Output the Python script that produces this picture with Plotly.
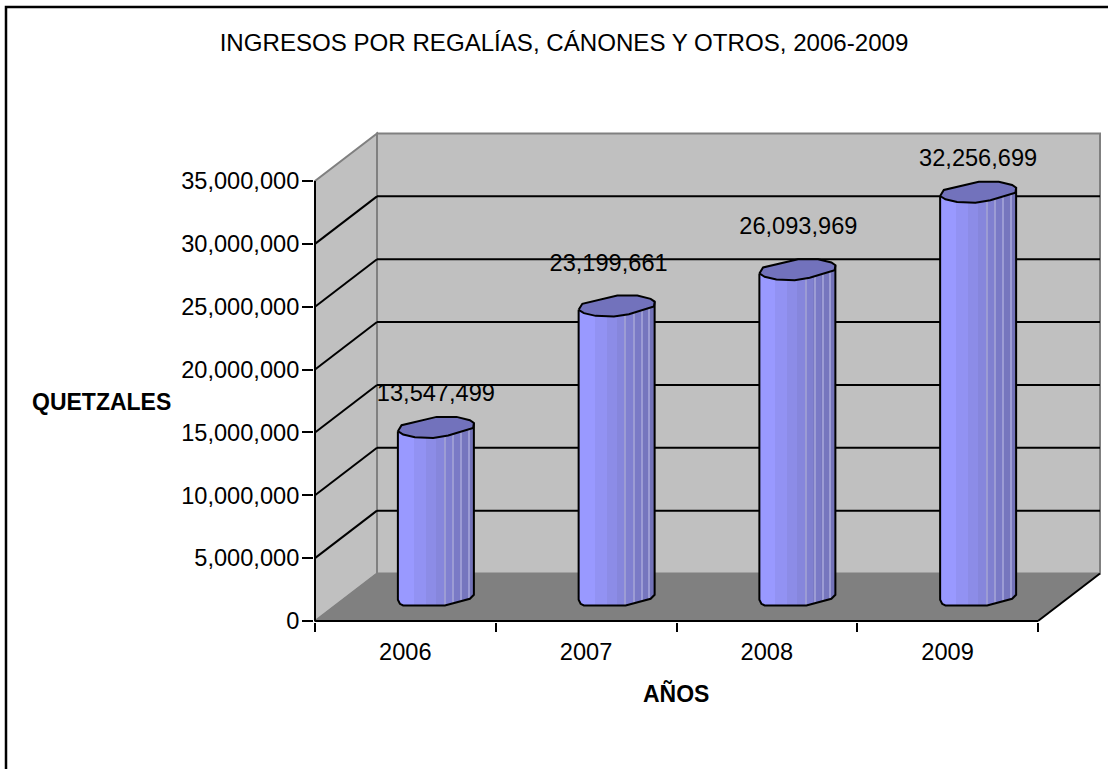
import numpy as np
import plotly.graph_objects as go

# ---- data ----
years = [2006, 2007, 2008, 2009]
values = [13547499, 23199661, 26093969, 32256699]
y_ticks = [0, 5000000, 10000000, 15000000, 20000000, 25000000, 30000000, 35000000]
title_text = "INGRESOS POR REGALÍAS, CÁNONES Y OTROS, 2006-2009"
y_title = "QUETZALES"
x_title = "AÑOS"

# ---- page geometry (pixels of the 1108x769 page) ----
W, H = 1108, 769
X0_PX, Y0_PX = 315.0, 621.0       # where the front corner sits
PX_PER_YEAR = 180.75
PX_PER_UNIT = 440.0 / 35000000
DEPTH_X, DEPTH_Y = 62.0, 47.5     # oblique depth of the box
COL_SHIFT_X, COL_SHIFT_Y = 30.5, 24.5  # columns stand mid-depth

def dx(px):
    return px / PX_PER_YEAR

def dy(px):
    return px / PX_PER_UNIT

X_START = years[0] - 0.5
X_END = years[-1] + 0.5

dom_l, dom_r, dom_b, dom_t = 314.0, 1104.0, 622.0, 128.0
x_range = [X_START + dx(dom_l - X0_PX), X_START + dx(dom_r - X0_PX)]
y_range = [dy(Y0_PX - dom_b), dy(Y0_PX - dom_t)]

# ---- column look (offsets in px from the column axis) ----
R = 38.0
band_edges = [-38, -23, -11, -1, 8.3, 16.7, 24.7, 32.3, 38]
band_cols = ["#9999FF", "#9292F3", "#8C8CE7", "#8686DC", "#8080D0", "#7A7AC6", "#7676BE", "#7272B8"]
seam_t = [8.3, 16.7, 24.7, 32.3]
seam_col = "#9C9CD4"
cap_col = "#7272BC"
cap_outline = [(-38, 5), (-34.3, -1), (0.7, -9.3), (20.7, -9.3), (34, -6), (38, -3.3), (37.3, 1.7),
               (12.3, 9.3), (-2.7, 11.7), (-21, 11), (-32.7, 8.3), (-38, 5)]
cap_low_t = [-38, -32.7, -21, -2.7, 12.3, 37.3, 38]
cap_low_d = [5, 8.3, 11, 11.7, 9.3, 1.7, -3.3]
foot_t = [-38, -36, -32.7, 9, 34, 38]
foot_d = [3.3, 7.3, 9, 9, 2.3, -1.7]

fig = go.Figure()

# column bodies: thin vertical strips, each strip a bar
STRIP = 2.0
strip_left = np.arange(-R, R, STRIP)
strip_mid = strip_left + STRIP / 2
foot_off = np.interp(strip_mid, foot_t, foot_d)
top_off = np.interp(strip_mid, cap_low_t, cap_low_d)
strip_col = [band_cols[min(int(np.searchsorted(band_edges, m)) - 1, len(band_cols) - 1)] for m in strip_mid]

for yr, val in zip(years, values):
    n = len(strip_mid)
    fig.add_trace(go.Bar(
        x=[yr] * n,
        y=[val - dy(t) + dy(f) for t, f in zip(top_off, foot_off)],
        base=[dy(COL_SHIFT_Y) - dy(f) for f in foot_off],
        offset=[dx(COL_SHIFT_X + s) for s in strip_left],
        width=[dx(STRIP + 0.4)] * n,
        marker=dict(color=strip_col, line=dict(width=0)),
        showlegend=False, hoverinfo="skip", cliponaxis=False,
    ))
    # faint seams between the shaded facets on the dark side
    m = len(seam_t)
    seam_foot = np.interp(seam_t, foot_t, foot_d)
    seam_top = np.interp(seam_t, cap_low_t, cap_low_d)
    fig.add_trace(go.Bar(
        x=[yr] * m,
        y=[val - dy(t) + dy(f) for t, f in zip(seam_top, seam_foot)],
        base=[dy(COL_SHIFT_Y) - dy(f) for f in seam_foot],
        offset=[dx(COL_SHIFT_X + s) for s in seam_t],
        width=[dx(1.0)] * m,
        marker=dict(color=seam_col, line=dict(width=0)),
        showlegend=False, hoverinfo="skip", cliponaxis=False,
    ))

# column outlines and caps
for yr, val in zip(years, values):
    cx = yr + dx(COL_SHIFT_X)
    floor_y = dy(COL_SHIFT_Y)
    top_y = floor_y + val
    sx = [cx + dx(-R)] + [cx + dx(t) for t in foot_t] + [cx + dx(R)]
    sy = [top_y - dy(5)] + [floor_y - dy(d) for d in foot_d] + [top_y - dy(-3.3)]
    fig.add_trace(go.Scatter(x=sx, y=sy, mode="lines", line=dict(color="black", width=2),
                             showlegend=False, hoverinfo="skip", cliponaxis=False))
    fig.add_trace(go.Scatter(x=[cx + dx(p[0]) for p in cap_outline],
                             y=[top_y - dy(p[1]) for p in cap_outline],
                             mode="lines", fill="toself", fillcolor=cap_col,
                             line=dict(color="black", width=2),
                             showlegend=False, hoverinfo="skip", cliponaxis=False))

# data labels
label_lift = [31, 40, 40, 31]
label_shift = [0, -8, 1, 0]
fig.add_trace(go.Scatter(
    x=[yr + dx(COL_SHIFT_X + s) for yr, s in zip(years, label_shift)],
    y=[val + dy(COL_SHIFT_Y + l) for val, l in zip(values, label_lift)],
    mode="text", text=[f"{v:,}" for v in values], textposition="middle center",
    textfont=dict(family="Liberation Sans", size=23.6, color="black"),
    showlegend=False, hoverinfo="skip", cliponaxis=False,
))

# ---- the oblique box, drawn through the axes ----
GREY = "#808080"
WALL = "#C0C0C0"
top_val = y_ticks[-1]
ox, oy = dx(DEPTH_X), dy(DEPTH_Y)

def poly(points, fill, line_col, width):
    path = "M " + " L ".join(f"{a},{b}" for a, b in points) + " Z"
    return dict(type="path", path=path, xref="x", yref="y", layer="below",
                fillcolor=fill, line=dict(color=line_col, width=width))

def seg(x1, y1, x2, y2, col, width, layer="below"):
    return dict(type="line", x0=x1, y0=y1, x1=x2, y1=y2, xref="x", yref="y", layer=layer,
                line=dict(color=col, width=width))

shapes = [
    poly([(X_START, 0), (X_START + ox, oy), (X_START + ox, top_val + oy), (X_START, top_val)], WALL, GREY, 2),
    poly([(X_START + ox, oy), (X_END + ox, oy), (X_END + ox, top_val + oy), (X_START + ox, top_val + oy)], WALL, GREY, 2),
    poly([(X_START, 0), (X_END, 0), (X_END + ox, oy), (X_START + ox, oy)], GREY, GREY, 1),
]
for t in y_ticks[1:-1]:
    shapes.append(seg(X_START, t, X_START + ox, t + oy, "black", 2))
    shapes.append(seg(X_START + ox, t + oy, X_END + ox, t + oy, "black", 2))
shapes.append(seg(X_END, 0, X_END + ox, oy, "black", 2))
shapes.append(seg(X_START, 0, X_START, top_val, "black", 2))
shapes.append(seg(X_START, 0, X_END, 0, "black", 2))
# chart frame (runs off the page on the right and at the bottom)
shapes.append(dict(type="rect", xref="paper", yref="paper", layer="below",
                   x0=6 / W, x1=1.02, y0=-0.02, y1=1 - 7 / H,
                   line=dict(color="black", width=2.5), fillcolor="rgba(0,0,0,0)"))

AX_FONT = dict(family="Liberation Sans", size=23.6, color="black")

fig.update_layout(
    template=None,
    width=W, height=H, margin=dict(l=0, r=0, t=0, b=0, autoexpand=False),
    paper_bgcolor="white", plot_bgcolor="white",
    barmode="overlay", bargap=0, showlegend=False,
    font=AX_FONT, shapes=shapes,
    title=dict(text=title_text, x=564 / W, xanchor="center", y=1 - 43 / H, yanchor="middle",
               font=dict(family="Liberation Sans", size=24.1, color="black")),
    xaxis=dict(domain=[dom_l / W, dom_r / W], range=x_range, type="linear", automargin=False,
               tickmode="array", tickvals=years, ticktext=[str(y) for y in years],
               ticks="outside", ticklen=9, tickcolor="rgba(0,0,0,0)",
               minor=dict(tickmode="array", tickvals=[y - 0.5 for y in years] + [X_END],
                          ticks="outside", ticklen=9, tickcolor="black", tickwidth=2, showgrid=False),
               showgrid=False, zeroline=False, showline=False, tickfont=AX_FONT, fixedrange=True),
    yaxis=dict(domain=[1 - dom_b / H, 1 - dom_t / H], range=y_range, automargin=False,
               tickmode="array", tickvals=y_ticks, tickformat=",d",
               ticks="outside", ticklen=11, tickwidth=2, tickcolor="black", ticklabelstandoff=-2,
               showgrid=False, zeroline=False, showline=False, tickfont=AX_FONT, fixedrange=True),
    annotations=[
        dict(text=f"<b>{y_title}</b>", xref="paper", yref="paper", x=101 / W, y=1 - 402 / H,
             xanchor="center", yanchor="middle", showarrow=False,
             font=dict(family="Liberation Sans", size=23, color="black")),
        dict(text=f"<b>{x_title}</b>", xref="paper", yref="paper", x=676 / W, y=1 - 693 / H,
             xanchor="center", yanchor="middle", showarrow=False,
             font=dict(family="Liberation Sans", size=23, color="black")),
    ],
)

fig.write_html("out.html", config=dict(displayModeBar=False),
               post_script="document.body.style.margin='0';document.body.style.overflow='hidden';")
